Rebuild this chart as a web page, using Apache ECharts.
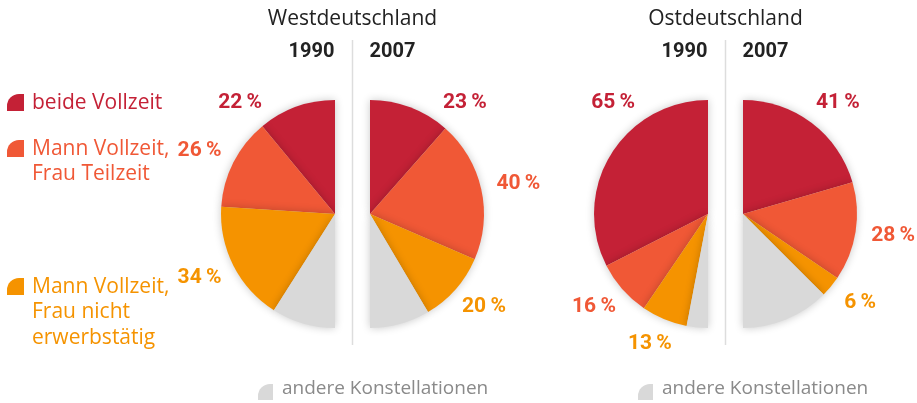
<!DOCTYPE html>
<html>
<head>
<meta charset="utf-8">
<script src="https://cdn.jsdelivr.net/npm/echarts@6/dist/echarts.min.js"></script>
<style>
  html, body { margin: 0; padding: 0; background: #fff; }
  #chart { width: 917px; height: 403px; }
</style>
</head>
<body>
<div id="chart"></div>
<script>
var myChart = echarts.init(document.getElementById('chart'));

// Daten
var categories = ['beide Vollzeit', 'Mann Vollzeit, Frau Teilzeit', 'Mann Vollzeit, Frau nicht erwerbstätig', 'andere Konstellationen'];
var west1990 = [22, 26, 34, 18];
var west2007 = [23, 40, 20, 17];
var east1990 = [65, 16, 13, 6];
var east2007 = [41, 28, 6, 25];

var colors = ['#c42136', '#f05836', '#f59300', '#d9d9d9'];
var font = '"Open Sans", Roboto, sans-serif';
var boldFont = 'Roboto, "Liberation Sans", sans-serif';

function makeData(values) {
  return values.map(function (v, i) {
    return {
      value: v,
      name: categories[i],
      itemStyle: { color: colors[i] },
      label: { show: i < 3, color: colors[i] }
    };
  });
}

// Beschriftung: erste Zahl oben neben dem Kreis, die anderen auf einer Ellipse um die Mitte
function labelPos(values, center, leftSide, idx) {
  var total = values.reduce(function (a, b) { return a + b; }, 0);
  var cum = 0;
  for (var i = 0; i < idx; i++) cum += values[i];
  var a = (cum + values[idx] / 2) / total * Math.PI;
  var rx = 152, ry = 140;
  var dx, dy;
  if (idx === 0) {
    dy = -111;
    dx = Math.sqrt(146 * 146 - dy * dy);
  } else {
    dx = rx * Math.sin(a);
    dy = -ry * Math.cos(a);
  }
  return [center[0] + (leftSide ? -dx : dx), center[1] + dy];
}

function halfPie(values, center, leftSide) {
  return {
    type: 'pie',
    center: center,
    radius: [0, 114],
    startAngle: 90,
    endAngle: leftSide ? 270 : -90,
    clockwise: !leftSide,
    silent: true,
    animation: false,
    avoidLabelOverlap: false,
    data: makeData(values),
    itemStyle: {
      shadowBlur: 8,
      shadowColor: 'rgba(0,0,0,0.22)'
    },
    label: {
      position: 'outside',
      formatter: '{c}\u2009%',
      fontFamily: boldFont,
      fontWeight: 'bold',
      fontSize: 21,
      overflow: 'none'
    },
    labelLine: { show: false },
    labelLayout: function (params) {
      var p = labelPos(values, center, leftSide, params.dataIndex);
      return { x: p[0], y: p[1], align: 'center', verticalAlign: 'middle' };
    }
  };
}

function legendItem(y, lines, color) {
  return {
    type: 'group',
    children: [
      {
        type: 'rect',
        shape: { x: 7, y: y - 8, width: 17, height: 17, r: [12, 0, 0, 0] },
        style: { fill: color }
      },
      {
        type: 'text',
        x: 32, y: y - 12,
        style: {
          text: lines.join('\n'),
          fill: color,
          font: '21px ' + font,
          lineHeight: 25.5
        }
      }
    ]
  };
}

function header(cx, title) {
  return [
    { type: 'text', x: cx, y: 9, style: { text: title, fill: '#222', font: '21px ' + font, align: 'center' } },
    { type: 'text', x: cx - 18, y: 42, style: { text: '1990', fill: '#222', font: 'bold 20px ' + boldFont, align: 'right' } },
    { type: 'text', x: cx + 17, y: 42, style: { text: '2007', fill: '#222', font: 'bold 20px ' + boldFont, align: 'left' } },
    { type: 'line', shape: { x1: cx, y1: 40, x2: cx, y2: 345 }, style: { stroke: '#dddddd', lineWidth: 1.5 } }
  ];
}

function otherLegend(x) {
  return [
    { type: 'rect', shape: { x: x, y: 384, width: 15, height: 16, r: [12, 0, 0, 0] }, style: { fill: colors[3] } },
    { type: 'text', x: x + 24, y: 379, style: { text: categories[3], fill: '#8a8a8a', font: '19px ' + font } }
  ];
}

var option = {
  backgroundColor: '#fff',
  series: [
    halfPie(west1990, [335, 214], true),
    halfPie(west2007, [370, 214], false),
    halfPie(east1990, [708, 214], true),
    halfPie(east2007, [743, 214], false)
  ],
  graphic: [].concat(
    header(352.5, 'Westdeutschland'),
    header(725.5, 'Ostdeutschland'),
    otherLegend(258),
    otherLegend(638),
    [
      legendItem(102, ['beide Vollzeit'], colors[0]),
      legendItem(148, ['Mann Vollzeit,', 'Frau Teilzeit'], colors[1]),
      legendItem(286, ['Mann Vollzeit,', 'Frau nicht', 'erwerbstätig'], colors[2])
    ]
  )
};
myChart.setOption(option);
</script>
</body>
</html>
